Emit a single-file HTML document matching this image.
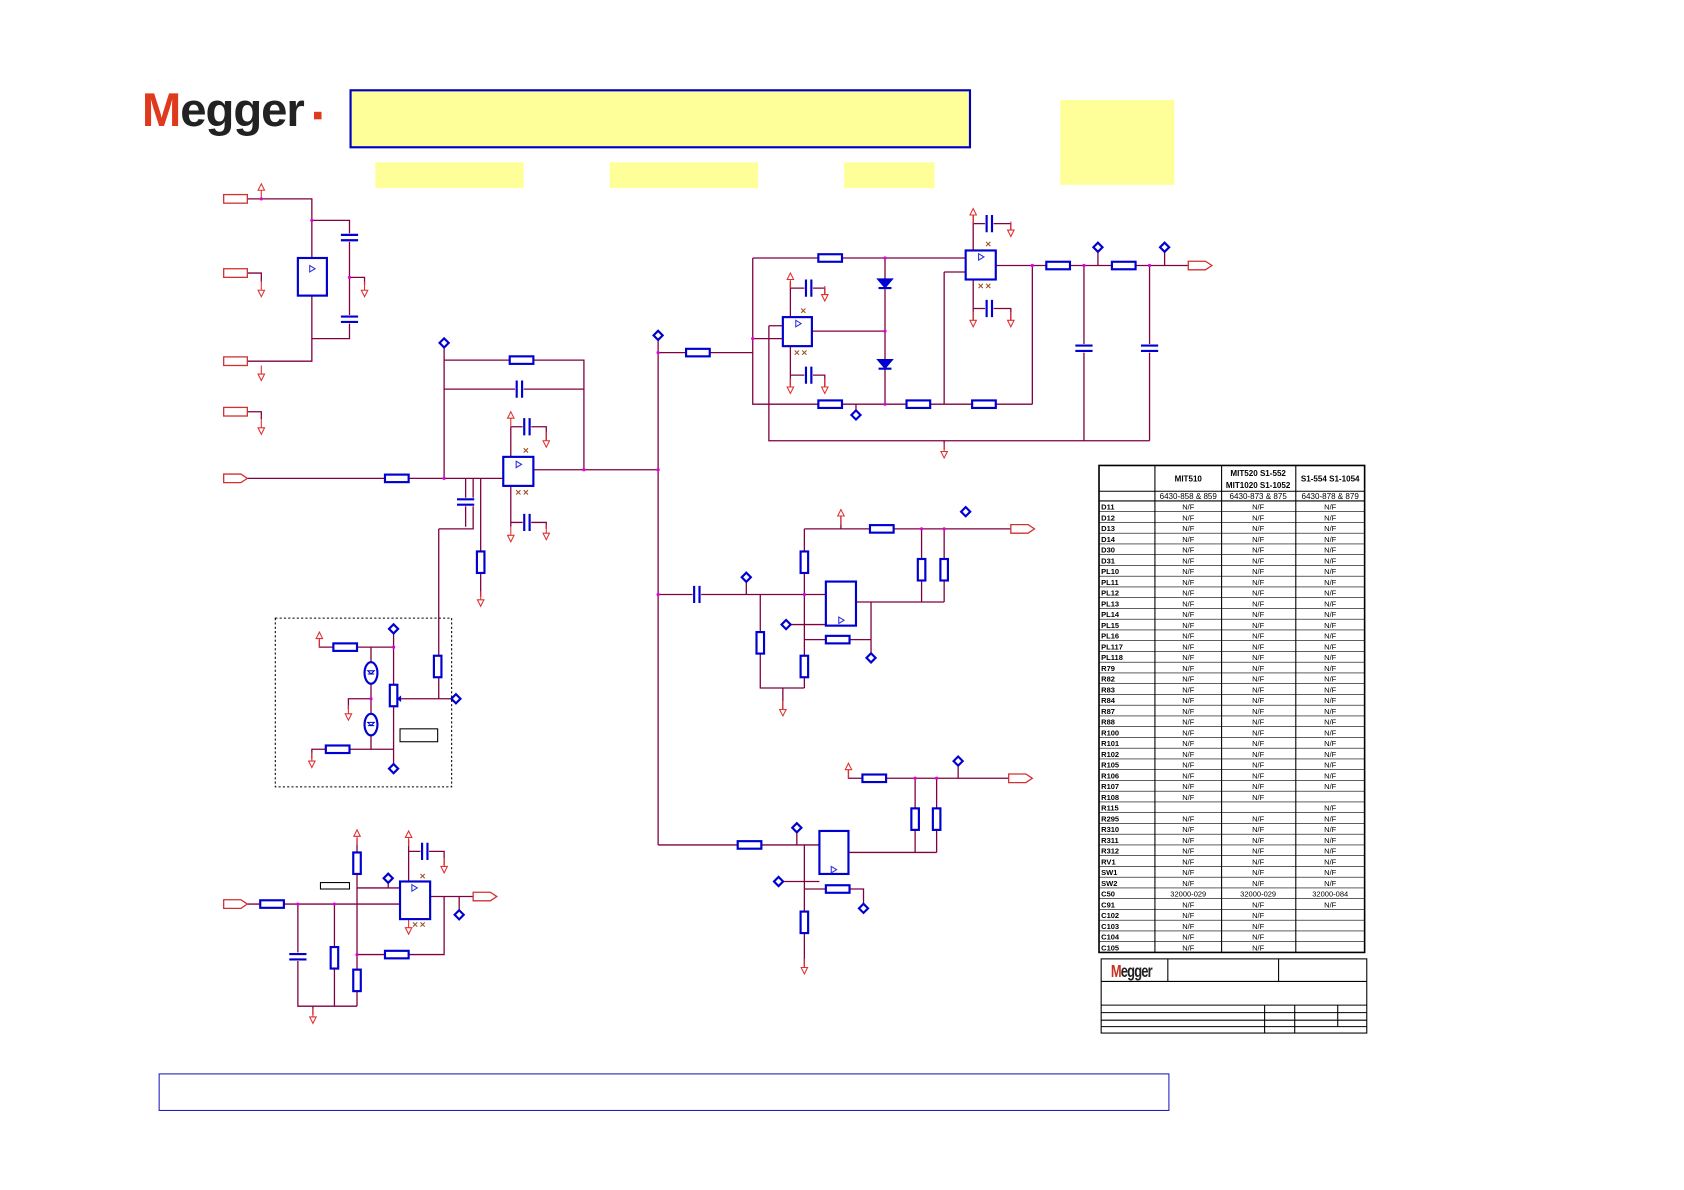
<!DOCTYPE html>
<html><head><meta charset="utf-8"><style>
html,body{margin:0;padding:0;background:#fff;}
svg{display:block;}
text{font-family:"Liberation Sans",sans-serif;}
</style></head><body>
<svg width="1684" height="1190" viewBox="0 0 1566 1107" preserveAspectRatio="none" xmlns="http://www.w3.org/2000/svg">
<defs>
<g id="rh"><rect x="-11" y="-3.5" width="22" height="7" fill="#fff" stroke="#0000d0" stroke-width="2"/></g>
<g id="rv"><rect x="-3.5" y="-10" width="7" height="20" fill="#fff" stroke="#0000d0" stroke-width="2"/></g>
<g id="ch"><rect x="-4" y="-8" width="8" height="16" fill="#fff"/><path d="M-2.5 -8V8M2.5 -8V8" stroke="#0000d0" stroke-width="2"/></g>
<g id="cv"><rect x="-8" y="-4" width="16" height="8" fill="#fff"/><path d="M-8 -2.5H8M-8 2.5H8" stroke="#0000d0" stroke-width="2"/></g>
<g id="dm"><rect x="-3" y="-3" width="6" height="6" transform="rotate(45)" fill="#fff" stroke="#0000d0" stroke-width="2"/></g>
<g id="up"><path d="M0 0V-8M-3 -8L0 -14L3 -8Z" stroke="#e03030" fill="#fff" stroke-width="1"/></g>
<g id="dn"><path d="M0 0V8M-3 8L0 14L3 8Z" stroke="#e03030" fill="#fff" stroke-width="1"/></g>
<g id="pt"><rect x="0" y="-4" width="22" height="8" fill="#fff" stroke="#d03030" stroke-width="1.2"/></g>
<g id="pa"><path d="M0 -4H16L22 0L16 4H0Z" fill="#fff" stroke="#d03030" stroke-width="1.2"/></g>
<g id="dz"><path d="M-6 -4H6L0 3Z M-6 4H6" fill="#0000d0" stroke="#0000d0" stroke-width="2"/></g>
<g id="xx"><path d="M-2 -2L2 2M2 -2L-2 2" stroke="#a05020" stroke-width="1"/></g>
</defs>

<!-- logo -->
<text x="132" y="117" font-size="44" font-weight="bold" fill="#222" letter-spacing="-1"><tspan fill="#e03a1e">M</tspan>egger</text>
<rect x="292" y="104" width="7" height="7" fill="#e03a1e"/>

<!-- yellow boxes -->
<rect x="326" y="84" width="576" height="53" fill="#ffff99" stroke="#0000c0" stroke-width="2"/>
<rect x="349" y="151" width="138" height="24" fill="#ffff99"/>
<rect x="567" y="151" width="138" height="24" fill="#ffff99"/>
<rect x="785" y="151" width="84" height="24" fill="#ffff99"/>
<rect x="986" y="93" width="106" height="79" fill="#ffff99"/>
<rect x="148" y="999" width="939" height="34" fill="#fff" stroke="#2020c0" stroke-width="1"/>

<!-- wires -->
<g stroke="#800040" stroke-width="1.2" fill="none">
<!-- top-left block -->
<path d="M230 185H290V240M290 205H325V315H290V275M325 258H339V265M230 254H243V262M230 336H290V315M230 383H243V390"/>
<!-- mid left -->
<path d="M230 445H468M413 320V445M413 335H543V437M413 362H543M496 437H612M475 397V425M475 397H508V410M475 452V490M475 486H508V492M433 445V490M408 492H440V445M447 445V555M408 492V650"/>
<!-- dashed box contents -->
<path d="M297 595V602H366M366 585V715M345 602V697M324 660V650H345M290 706V697H366M366 650H424"/>
<!-- bottom left -->
<path d="M230 841H372M332 780V826H372M361 817V826M380 781V820M380 792H413V805M400 834H440M427 834V848M413 834V888H332M332 826V936M277 841V936H332M311 841V936M291 936V944"/>
<!-- main bus -->
<path d="M612 312V786M612 328H700M612 553H768M612 786H762"/>
<!-- top right -->
<path d="M700 240H898M700 240V376H960M823 240V376M715 303H728M715 303V410H1069M700 315H728M755 308H823M735 262V295M735 268H767V278M735 322V360M735 349H767V360M878 253H898M878 253V376M926 247H1105M960 247V376M1008 247V410M1069 247V410M1021 230V247M1083 230V247M878 410V418M905 200V233M905 208H940V215M905 260V298M905 287H940V298M796 376V386"/>
<!-- middle right -->
<path d="M694 538V553M707 553V640H748M748 492V640M748 492H940M782 480V492M857 492V560M878 492V560M796 560H878M810 560V612M731 581H768M748 595H810M728 640V660"/>
<!-- lower right -->
<path d="M741 770V786M748 786V900M724 820H762M748 827H803V845M789 793H871M789 716V724H958M851 724V793M871 724V793M891 708V724"/>
</g>
<!-- junction dots -->
<g fill="#e000e0">
<circle cx="290" cy="205" r="1.5"/><circle cx="325" cy="258" r="1.5"/><circle cx="243" cy="185" r="1.5"/>
<circle cx="413" cy="445" r="1.5"/><circle cx="543" cy="437" r="1.5"/><circle cx="612" cy="437" r="1.5"/><circle cx="612" cy="553" r="1.5"/><circle cx="612" cy="328" r="1.5"/>
<circle cx="700" cy="315" r="1.5"/><circle cx="823" cy="240" r="1.5"/><circle cx="823" cy="308" r="1.5"/><circle cx="823" cy="376" r="1.5"/><circle cx="1008" cy="247" r="1.5"/><circle cx="1069" cy="247" r="1.5"/><circle cx="960" cy="247" r="1.5"/>
<circle cx="748" cy="553" r="1.5"/><circle cx="857" cy="492" r="1.5"/><circle cx="878" cy="492" r="1.5"/><circle cx="851" cy="724" r="1.5"/><circle cx="871" cy="724" r="1.5"/>
<circle cx="311" cy="841" r="1.5"/><circle cx="277" cy="841" r="1.5"/><circle cx="332" cy="888" r="1.5"/><circle cx="366" cy="602" r="1.5"/><circle cx="345" cy="650" r="1.5"/>
</g>

<!-- ports -->
<use href="#pt" x="208" y="185"/><use href="#pt" x="208" y="254"/><use href="#pt" x="208" y="336"/><use href="#pt" x="208" y="383"/>
<use href="#pa" x="208" y="445"/><use href="#pa" x="208" y="841"/><use href="#pa" x="440" y="834"/>
<use href="#pa" x="1105" y="247"/><use href="#pa" x="940" y="492"/><use href="#pa" x="938" y="724"/>

<!-- power arrows -->
<use href="#up" x="243" y="185"/><use href="#dn" x="243" y="262"/><use href="#dn" x="243" y="340"/><use href="#dn" x="243" y="390"/><use href="#dn" x="339" y="262"/>
<use href="#up" x="475" y="397"/><use href="#dn" x="508" y="402"/><use href="#dn" x="475" y="490"/><use href="#dn" x="508" y="488"/><use href="#dn" x="447" y="550"/>
<use href="#up" x="297" y="602"/><use href="#dn" x="324" y="656"/><use href="#dn" x="290" y="700"/>
<use href="#up" x="332" y="786"/><use href="#up" x="380" y="787"/><use href="#dn" x="413" y="798"/><use href="#dn" x="380" y="855"/><use href="#dn" x="291" y="938"/>
<use href="#up" x="735" y="268"/><use href="#dn" x="767" y="266"/><use href="#dn" x="735" y="352"/><use href="#dn" x="767" y="352"/>
<use href="#up" x="905" y="208"/><use href="#dn" x="940" y="206"/><use href="#dn" x="905" y="290"/><use href="#dn" x="940" y="290"/><use href="#dn" x="878" y="412"/>
<use href="#up" x="782" y="488"/><use href="#dn" x="728" y="652"/><use href="#up" x="789" y="724"/><use href="#dn" x="748" y="892"/>

<!-- opamps -->
<g fill="#fff" stroke="#0000d0" stroke-width="2">
<rect x="277" y="240" width="27" height="35"/>
<rect x="468" y="425" width="28" height="27"/>
<rect x="372" y="820" width="28" height="35"/>
<rect x="728" y="295" width="27" height="27"/>
<rect x="898" y="233" width="28" height="27"/>
<rect x="768" y="541" width="28" height="41"/>
<rect x="762" y="773" width="27" height="40"/>
</g>
<g fill="none" stroke="#3030e0" stroke-width="1">
<path d="M288 247v6l5 -3z"/><path d="M480 429v6l5 -3z"/><path d="M383 823v6l5 -3z"/><path d="M740 298v6l5 -3z"/><path d="M910 236v6l5 -3z"/><path d="M780 574v6l5 -3z"/><path d="M773 806v6l5 -3z"/>
</g>
<use href="#xx" x="489" y="419"/><use href="#xx" x="482" y="458"/><use href="#xx" x="489" y="458"/>
<use href="#xx" x="393" y="815"/><use href="#xx" x="386" y="860"/><use href="#xx" x="393" y="860"/>
<use href="#xx" x="747" y="289"/><use href="#xx" x="741" y="328"/><use href="#xx" x="748" y="328"/>
<use href="#xx" x="919" y="227"/><use href="#xx" x="912" y="266"/><use href="#xx" x="919" y="266"/>

<!-- resistors -->
<use href="#rh" x="369" y="445"/><use href="#rh" x="485" y="335"/><use href="#rv" x="447" y="523"/><use href="#rv" x="407" y="620"/>
<use href="#rh" x="321" y="602"/><use href="#rh" x="314" y="697"/><use href="#rv" x="366" y="647"/>
<use href="#rh" x="253" y="841"/><use href="#rv" x="332" y="803"/><use href="#rh" x="369" y="888"/><use href="#rv" x="311" y="891"/><use href="#rv" x="332" y="912"/>
<use href="#rh" x="649" y="328"/><use href="#rh" x="772" y="240"/><use href="#rh" x="772" y="376"/><use href="#rh" x="854" y="376"/><use href="#rh" x="915" y="376"/><use href="#rh" x="984" y="247"/><use href="#rh" x="1045" y="247"/>
<use href="#rv" x="748" y="523"/><use href="#rv" x="748" y="620"/><use href="#rv" x="707" y="598"/><use href="#rh" x="820" y="492"/><use href="#rv" x="857" y="530"/><use href="#rv" x="878" y="530"/><use href="#rh" x="779" y="595"/>
<use href="#rh" x="697" y="786"/><use href="#rv" x="748" y="858"/><use href="#rh" x="779" y="827"/><use href="#rh" x="813" y="724"/><use href="#rv" x="851" y="762"/><use href="#rv" x="871" y="762"/>

<!-- capacitors -->
<use href="#cv" x="325" y="221"/><use href="#cv" x="325" y="297"/>
<use href="#ch" x="483" y="362"/><use href="#ch" x="490" y="397"/><use href="#ch" x="490" y="486"/><use href="#cv" x="433" y="467"/>
<use href="#ch" x="395" y="792"/><use href="#cv" x="277" y="890"/>
<use href="#ch" x="648" y="553"/><use href="#ch" x="752" y="268"/><use href="#ch" x="752" y="349"/><use href="#ch" x="920" y="208"/><use href="#ch" x="920" y="287"/>
<use href="#cv" x="1008" y="324"/><use href="#cv" x="1069" y="324"/>

<!-- diodes -->
<use href="#dz" x="823" y="264"/><use href="#dz" x="823" y="339"/>
<g fill="#fff" stroke="#0000d0" stroke-width="2"><ellipse cx="345" cy="626" rx="6" ry="10"/><ellipse cx="345" cy="674" rx="6" ry="10"/></g>
<g fill="none" stroke="#0000d0" stroke-width="1"><path d="M342 624h6l-3 3zM342 627h6M342 672h6l-3 3zM342 675h6"/></g>
<path d="M369 650l4 -3v6z" fill="#0000d0"/>

<!-- diamonds -->
<use href="#dm" x="413" y="319"/><use href="#dm" x="612" y="312"/><use href="#dm" x="366" y="585"/><use href="#dm" x="366" y="715"/><use href="#dm" x="424" y="650"/>
<use href="#dm" x="361" y="817"/><use href="#dm" x="427" y="851"/>
<use href="#dm" x="796" y="386"/><use href="#dm" x="1021" y="230"/><use href="#dm" x="1083" y="230"/>
<use href="#dm" x="694" y="537"/><use href="#dm" x="731" y="581"/><use href="#dm" x="810" y="612"/><use href="#dm" x="898" y="476"/>
<use href="#dm" x="741" y="770"/><use href="#dm" x="724" y="820"/><use href="#dm" x="803" y="845"/><use href="#dm" x="891" y="708"/>

<!-- misc rects -->
<rect x="256" y="575" width="164" height="157" fill="none" stroke="#000" stroke-width="1" stroke-dasharray="2,2"/>
<rect x="372" y="678" width="35" height="12" fill="#fff" stroke="#000" stroke-width="1"/>
<rect x="298" y="821" width="27" height="6" fill="#fff" stroke="#000" stroke-width="1"/>

<!-- table -->
<g stroke="#000" fill="none">
<rect x="1022" y="433" width="247" height="453" stroke-width="1.5"/>
<path d="M1074 433V886M1136 433V886M1205 433V886" stroke-width="1"/>
<path d="M1022 457H1269M1022 466H1269" stroke-width="1"/>
</g>
<g stroke="#000" stroke-width="0.6">
<path d="M1022 476H1269M1022 486H1269M1022 496H1269M1022 506H1269M1022 516H1269M1022 526H1269M1022 536H1269M1022 546H1269M1022 556H1269M1022 566H1269M1022 576H1269M1022 586H1269M1022 596H1269M1022 606H1269M1022 616H1269M1022 626H1269M1022 636H1269M1022 646H1269M1022 656H1269M1022 666H1269M1022 676H1269M1022 686H1269M1022 696H1269M1022 706H1269M1022 716H1269M1022 726H1269M1022 736H1269M1022 746H1269M1022 756H1269M1022 766H1269M1022 776H1269M1022 786H1269M1022 796H1269M1022 806H1269M1022 816H1269M1022 826H1269M1022 836H1269M1022 846H1269M1022 856H1269M1022 866H1269M1022 876H1269"/>
</g>
<g font-size="7.5" font-weight="bold" fill="#000" text-anchor="middle">
<text x="1105" y="448">MIT510</text>
<text x="1170" y="443">MIT520 S1-552</text>
<text x="1170" y="454">MIT1020 S1-1052</text>
<text x="1237" y="448">S1-554 S1-1054</text>
</g>
<g font-size="7.5" fill="#000" text-anchor="middle">
<text x="1105" y="464">6430-858 &amp; 859</text><text x="1170" y="464">6430-873 &amp; 875</text><text x="1237" y="464">6430-878 &amp; 879</text>
</g>
<g font-size="7" font-weight="bold" fill="#000">
<text x="1024" y="474">D11</text><text x="1024" y="484">D12</text><text x="1024" y="494">D13</text><text x="1024" y="504">D14</text><text x="1024" y="514">D30</text><text x="1024" y="524">D31</text><text x="1024" y="534">PL10</text><text x="1024" y="544">PL11</text><text x="1024" y="554">PL12</text><text x="1024" y="564">PL13</text><text x="1024" y="574">PL14</text><text x="1024" y="584">PL15</text><text x="1024" y="594">PL16</text><text x="1024" y="604">PL117</text><text x="1024" y="614">PL118</text><text x="1024" y="624">R79</text><text x="1024" y="634">R82</text><text x="1024" y="644">R83</text><text x="1024" y="654">R84</text><text x="1024" y="664">R87</text><text x="1024" y="674">R88</text><text x="1024" y="684">R100</text><text x="1024" y="694">R101</text><text x="1024" y="704">R102</text><text x="1024" y="714">R105</text><text x="1024" y="724">R106</text><text x="1024" y="734">R107</text><text x="1024" y="744">R108</text><text x="1024" y="754">R115</text><text x="1024" y="764">R295</text><text x="1024" y="774">R310</text><text x="1024" y="784">R311</text><text x="1024" y="794">R312</text><text x="1024" y="804">RV1</text><text x="1024" y="814">SW1</text><text x="1024" y="824">SW2</text><text x="1024" y="834">C50</text><text x="1024" y="844">C91</text><text x="1024" y="854">C102</text><text x="1024" y="864">C103</text><text x="1024" y="874">C104</text><text x="1024" y="884">C105</text>
</g>
<g font-size="7" fill="#000" text-anchor="middle">
<text x="1105" y="474">N/F</text><text x="1170" y="474">N/F</text><text x="1237" y="474">N/F</text>
<text x="1105" y="484">N/F</text><text x="1170" y="484">N/F</text><text x="1237" y="484">N/F</text>
<text x="1105" y="494">N/F</text><text x="1170" y="494">N/F</text><text x="1237" y="494">N/F</text>
<text x="1105" y="504">N/F</text><text x="1170" y="504">N/F</text><text x="1237" y="504">N/F</text>
<text x="1105" y="514">N/F</text><text x="1170" y="514">N/F</text><text x="1237" y="514">N/F</text>
<text x="1105" y="524">N/F</text><text x="1170" y="524">N/F</text><text x="1237" y="524">N/F</text>
<text x="1105" y="534">N/F</text><text x="1170" y="534">N/F</text><text x="1237" y="534">N/F</text>
<text x="1105" y="544">N/F</text><text x="1170" y="544">N/F</text><text x="1237" y="544">N/F</text>
<text x="1105" y="554">N/F</text><text x="1170" y="554">N/F</text><text x="1237" y="554">N/F</text>
<text x="1105" y="564">N/F</text><text x="1170" y="564">N/F</text><text x="1237" y="564">N/F</text>
<text x="1105" y="574">N/F</text><text x="1170" y="574">N/F</text><text x="1237" y="574">N/F</text>
<text x="1105" y="584">N/F</text><text x="1170" y="584">N/F</text><text x="1237" y="584">N/F</text>
<text x="1105" y="594">N/F</text><text x="1170" y="594">N/F</text><text x="1237" y="594">N/F</text>
<text x="1105" y="604">N/F</text><text x="1170" y="604">N/F</text><text x="1237" y="604">N/F</text>
<text x="1105" y="614">N/F</text><text x="1170" y="614">N/F</text><text x="1237" y="614">N/F</text>
<text x="1105" y="624">N/F</text><text x="1170" y="624">N/F</text><text x="1237" y="624">N/F</text>
<text x="1105" y="634">N/F</text><text x="1170" y="634">N/F</text><text x="1237" y="634">N/F</text>
<text x="1105" y="644">N/F</text><text x="1170" y="644">N/F</text><text x="1237" y="644">N/F</text>
<text x="1105" y="654">N/F</text><text x="1170" y="654">N/F</text><text x="1237" y="654">N/F</text>
<text x="1105" y="664">N/F</text><text x="1170" y="664">N/F</text><text x="1237" y="664">N/F</text>
<text x="1105" y="674">N/F</text><text x="1170" y="674">N/F</text><text x="1237" y="674">N/F</text>
<text x="1105" y="684">N/F</text><text x="1170" y="684">N/F</text><text x="1237" y="684">N/F</text>
<text x="1105" y="694">N/F</text><text x="1170" y="694">N/F</text><text x="1237" y="694">N/F</text>
<text x="1105" y="704">N/F</text><text x="1170" y="704">N/F</text><text x="1237" y="704">N/F</text>
<text x="1105" y="714">N/F</text><text x="1170" y="714">N/F</text><text x="1237" y="714">N/F</text>
<text x="1105" y="724">N/F</text><text x="1170" y="724">N/F</text><text x="1237" y="724">N/F</text>
<text x="1105" y="734">N/F</text><text x="1170" y="734">N/F</text><text x="1237" y="734">N/F</text>
<text x="1105" y="744">N/F</text><text x="1170" y="744">N/F</text>
<text x="1237" y="754">N/F</text>
<text x="1105" y="764">N/F</text><text x="1170" y="764">N/F</text><text x="1237" y="764">N/F</text>
<text x="1105" y="774">N/F</text><text x="1170" y="774">N/F</text><text x="1237" y="774">N/F</text>
<text x="1105" y="784">N/F</text><text x="1170" y="784">N/F</text><text x="1237" y="784">N/F</text>
<text x="1105" y="794">N/F</text><text x="1170" y="794">N/F</text><text x="1237" y="794">N/F</text>
<text x="1105" y="804">N/F</text><text x="1170" y="804">N/F</text><text x="1237" y="804">N/F</text>
<text x="1105" y="814">N/F</text><text x="1170" y="814">N/F</text><text x="1237" y="814">N/F</text>
<text x="1105" y="824">N/F</text><text x="1170" y="824">N/F</text><text x="1237" y="824">N/F</text>
<text x="1105" y="834">32000-029</text><text x="1170" y="834">32000-029</text><text x="1237" y="834">32000-084</text>
<text x="1105" y="844">N/F</text><text x="1170" y="844">N/F</text><text x="1237" y="844">N/F</text>
<text x="1105" y="854">N/F</text><text x="1170" y="854">N/F</text>
<text x="1105" y="864">N/F</text><text x="1170" y="864">N/F</text>
<text x="1105" y="874">N/F</text><text x="1170" y="874">N/F</text>
<text x="1105" y="884">N/F</text><text x="1170" y="884">N/F</text>
</g>

<!-- title block -->
<g stroke="#000" fill="none" stroke-width="1">
<rect x="1024" y="892" width="247" height="69"/>
<path d="M1086 892V913M1189 892V913M1024 913H1271M1024 935H1271M1024 942H1271M1024 949H1271M1024 955H1271M1176 935V961M1204 935V961M1244 935V955"/>
</g>
<text x="1033" y="909" font-size="16" font-weight="bold" fill="#222" letter-spacing="-1" transform="translate(1033 909) scale(0.75 1) translate(-1033 -909)"><tspan fill="#c83020">M</tspan>egger</text>
</svg>
</body></html>
